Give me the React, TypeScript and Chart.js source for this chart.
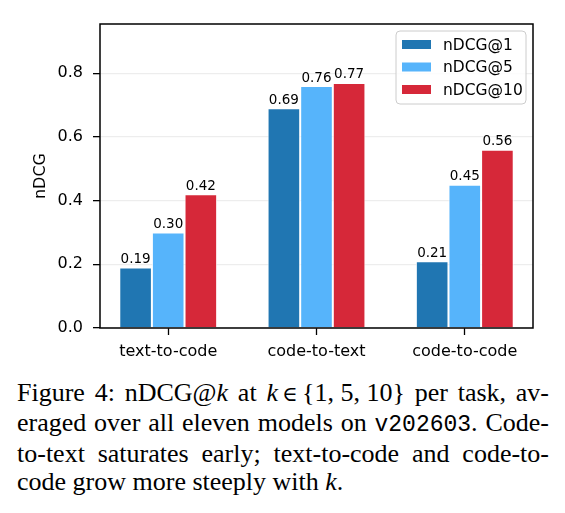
import { useEffect, useRef } from 'react';
import { Chart, registerables } from 'chart.js';

Chart.register(...registerables);

// Tasks on the x axis and nDCG averaged over models for each cutoff k
const CATEGORIES = ['text-to-code', 'code-to-text', 'code-to-code'];
const SERIES_LABELS = ['nDCG@1', 'nDCG@5', 'nDCG@10'];
const NDCG_AT_1 = [0.19, 0.69, 0.21];
const NDCG_AT_5 = [0.30, 0.76, 0.45];
const NDCG_AT_10 = [0.42, 0.77, 0.56];
const Y_TICKS = [0, 0.2, 0.4, 0.6, 0.8];
const Y_TITLE = 'nDCG';

const COLORS = ['#2076b2', '#56b4fb', '#d62839'];
const FONT = 'DejaVu Sans';

const SERIES = [NDCG_AT_1, NDCG_AT_5, NDCG_AT_10];

const framePlugin = {
  id: 'frameAndLabels',
  afterDatasetsDraw(chart: any) {
    const ctx = chart.ctx;
    ctx.save();
    ctx.font = `13.5px ${FONT}`;
    ctx.fillStyle = '#000';
    ctx.textAlign = 'center';
    ctx.textBaseline = 'alphabetic';
    chart.data.datasets.forEach((ds: any, di: number) => {
      const meta = chart.getDatasetMeta(di);
      meta.data.forEach((bar: any, i: number) => {
        const v = ds.data[i].y;
        ctx.fillText(v.toFixed(2), bar.x, bar.y - 4.5);
      });
    });
    ctx.restore();
  },
  afterDraw(chart: any) {
    const ctx = chart.ctx;
    const a = chart.chartArea;
    ctx.save();
    // axes frame
    ctx.strokeStyle = '#000';
    ctx.lineWidth = 1.5;
    ctx.strokeRect(a.left, a.top, a.right - a.left, a.bottom - a.top);

    // y axis title
    ctx.font = `16px ${FONT}`;
    ctx.fillStyle = '#000';
    ctx.textAlign = 'center';
    ctx.textBaseline = 'middle';
    ctx.translate(41, (a.top + a.bottom) / 2);
    ctx.rotate(-Math.PI / 2);
    ctx.fillText(Y_TITLE, 0, 0);
    ctx.restore();

    // legend box
    ctx.save();
    const bx = a.right - 137, by = a.top + 7, bw = 130, bh = 73, r = 4;
    ctx.beginPath();
    ctx.moveTo(bx + r, by);
    ctx.arcTo(bx + bw, by, bx + bw, by + bh, r);
    ctx.arcTo(bx + bw, by + bh, bx, by + bh, r);
    ctx.arcTo(bx, by + bh, bx, by, r);
    ctx.arcTo(bx, by, bx + bw, by, r);
    ctx.closePath();
    ctx.fillStyle = 'rgba(255,255,255,0.8)';
    ctx.fill();
    ctx.strokeStyle = '#cccccc';
    ctx.lineWidth = 1;
    ctx.stroke();
    ctx.font = `15.5px ${FONT}`;
    ctx.textAlign = 'left';
    ctx.textBaseline = 'middle';
    chart.data.datasets.forEach((ds: any, di: number) => {
      const cy = by + 13.5 + di * 22.5;
      ctx.fillStyle = ds.backgroundColor;
      ctx.fillRect(bx + 6, cy - 4.5, 29, 9);
      ctx.fillStyle = '#000';
      ctx.fillText(ds.label, bx + 47, cy + 1);
    });
    ctx.restore();
  },
};

export default function App() {
  const canvasRef = useRef<HTMLCanvasElement>(null);

  useEffect(() => {
    const chart = new Chart(canvasRef.current as HTMLCanvasElement, {
      type: 'bar',
      data: {
        datasets: SERIES.map((values, si) => ({
          label: SERIES_LABELS[si],
          data: values.map((y, i) => ({ x: i, y })),
          backgroundColor: COLORS[si],
          borderColor: 'rgba(255,255,255,0.85)',
          borderWidth: 1,
          categoryPercentage: 0.66,
          barPercentage: 1.0,
        })),
      },
      options: {
        responsive: false,
        devicePixelRatio: 1,
        animation: false,
        layout: { padding: { left: 0, right: 32, top: 24, bottom: 0 } },
        plugins: {
          legend: { display: false },
          tooltip: { enabled: false },
        },
        scales: {
          x: {
            type: 'linear',
            min: -0.46,
            max: 2.46,
            offset: false,
            afterBuildTicks: (s: any) => {
              s.ticks = CATEGORIES.map((_, i) => ({ value: i }));
            },
            afterFit: (s: any) => {
              s.height = 37;
            },
            grid: {
              offset: false,
              drawOnChartArea: false,
              tickLength: 7,
              tickColor: '#000',
              tickWidth: 1.3,
            },
            border: { display: false },
            ticks: {
              callback: (v: any) => CATEGORIES[v] ?? '',
              font: { family: FONT, size: 16 },
              color: '#000',
              padding: 7,
              maxRotation: 0,
              autoSkip: false,
            },
          },
          y: {
            min: 0,
            max: 0.955,
            afterBuildTicks: (s: any) => {
              s.ticks = Y_TICKS.map((v) => ({ value: v }));
            },
            afterFit: (s: any) => {
              s.width = 100;
            },
            grid: {
              color: '#ededed',
              lineWidth: 1.3,
              tickColor: '#000',
              tickLength: 7,
              tickWidth: 1.3,
            },
            border: { display: false },
            ticks: {
              callback: (v: any) => Number(v).toFixed(1),
              font: { family: FONT, size: 16 },
              color: '#000',
              padding: 10,
            },
          },
        },
      } as any,
      plugins: [framePlugin],
    });
    return () => chart.destroy();
  }, []);

  const serif = '"Liberation Serif", "Times New Roman", serif';
  const line = (last = false): any => ({
    textAlign: 'justify',
    textAlignLast: last ? 'left' : 'justify',
  });
  const math: any = { display: 'inline-block', whiteSpace: 'pre' };
  const it: any = { fontStyle: 'italic' };

  return (
    <div
      style={{
        position: 'fixed',
        left: 0,
        top: 0,
        width: 565,
        height: 513,
        background: '#fff',
        overflow: 'hidden',
      }}
    >
      <canvas
        ref={canvasRef}
        width={565}
        height={365}
        style={{ display: 'block', width: 565, height: 365 }}
      />
      <div
        style={{
          position: 'absolute',
          left: 17,
          top: 379.4,
          width: 532,
          fontFamily: serif,
          fontSize: 26,
          lineHeight: '27.7px',
          color: '#000',
        }}
      >
        <div style={line()}>
          Figure 4: nDCG@<span style={it}>k</span> at{' '}
          <span style={math}>
            <span style={it}>k</span>
            <span style={{ fontSize: 21, fontFamily: '"DejaVu Serif", serif' }}>{'\u2009\u2208\u2009'}</span>
            {'{1, 5, 10}'}
          </span>{' '}
          per task, av-
        </div>
        <div style={line()}>
          eraged over all eleven models on{' '}
          <span style={{ fontFamily: '"Liberation Mono", monospace', fontSize: 23 }}>v202603</span>. Code-
        </div>
        <div style={line()}>to-text saturates early; text-to-code and code-to-</div>
        <div style={line(true)}>
          code grow more steeply with <span style={it}>k</span>.
        </div>
      </div>
    </div>
  );
}
